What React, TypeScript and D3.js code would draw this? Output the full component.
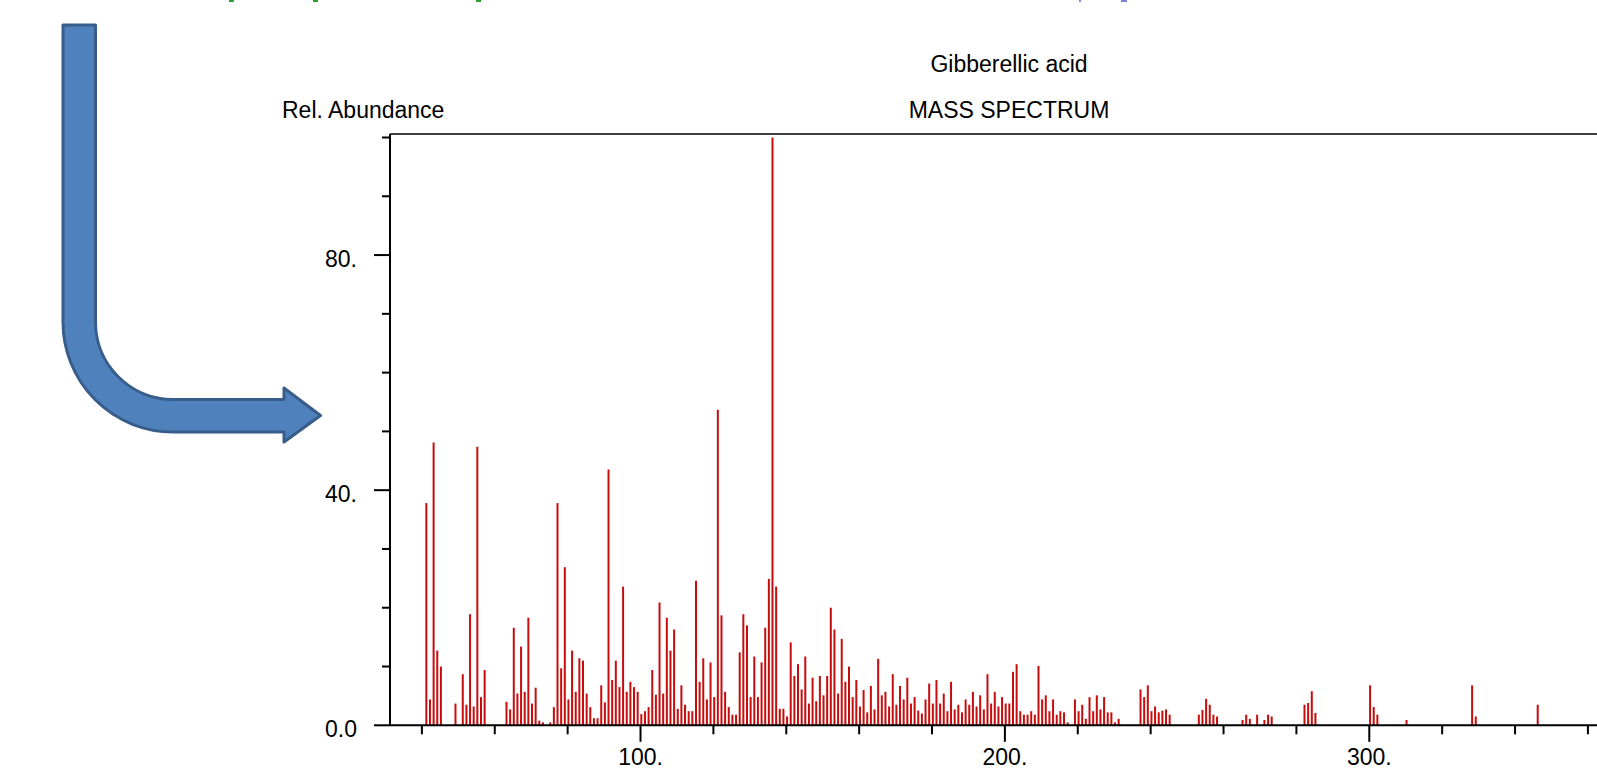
import React from 'react';
import * as d3 from 'd3';

// spectrum peaks (m/z, relative abundance %)
const massToCharge = [
  41, 42, 43, 44, 45, 49, 51, 52, 53, 54, 55, 56, 57,
  63, 64, 65, 66, 67, 68, 69, 70, 71, 72, 73, 75, 76, 77, 78, 79, 80,
  81, 82, 83, 84, 85, 86, 87, 88, 89, 90, 91, 92, 93, 94, 95, 96, 97, 98, 99, 100,
  101, 102, 103, 104, 105, 106, 107, 108, 109, 110, 111, 112, 113, 114, 115, 116, 117, 118, 119, 120,
  121, 122, 123, 124, 125, 126, 127, 128, 129, 130, 131, 132, 133, 134, 135, 136, 137, 138, 139, 140,
  141, 142, 143, 144, 145, 146, 147, 148, 149, 150, 151, 152, 153, 154, 155, 156, 157, 158, 159, 160,
  161, 162, 163, 164, 165, 166, 167, 168, 169, 170, 171, 172, 173, 174, 175, 176, 177, 178, 179, 180,
  181, 182, 183, 184, 185, 186, 187, 188, 189, 190, 191, 192, 193, 194, 195, 196, 197, 198, 199, 200,
  201, 202, 203, 204, 205, 206, 207, 208, 209, 210, 211, 212, 213, 214, 215, 216, 217, 219, 220,
  221, 222, 223, 224, 225, 226, 227, 228, 229, 230, 231,
  237, 238, 239, 240, 241, 242, 243, 244, 245,
  253, 254, 255, 256, 257, 258, 265, 266, 267, 269, 271, 272, 273,
  282, 283, 284, 285, 300, 301, 302, 310, 328, 329, 346,
];
const abundance = [
  37.8, 4.4, 48.1, 12.7, 10.0, 3.7, 8.7, 3.5, 18.9, 3.2, 47.4, 4.8, 9.4,
  4.0, 2.7, 16.6, 5.4, 13.4, 5.7, 18.3, 3.7, 6.4, 0.8, 0.5, 0.5, 3.1, 37.8, 9.7, 26.9, 4.4,
  12.7, 5.7, 11.4, 11.0, 5.4, 3.1, 1.2, 1.2, 6.8, 3.9, 43.5, 7.7, 11.0, 6.5, 23.6, 5.7, 7.4, 6.5, 5.7, 1.9,
  2.4, 3.1, 9.4, 5.2, 20.9, 5.4, 18.3, 12.7, 16.3, 2.8, 6.8, 3.5, 2.4, 2.4, 24.6, 7.4, 11.4, 4.4, 10.7, 4.8,
  53.7, 18.7, 5.7, 3.1, 1.8, 1.8, 12.4, 18.9, 17.0, 4.8, 11.7, 4.8, 10.7, 16.6, 24.9, 100, 23.6, 2.8, 2.8, 1.5,
  14.1, 8.4, 10.4, 6.1, 11.7, 3.7, 8.1, 4.1, 8.4, 5.1, 8.4, 20.0, 16.3, 5.4, 14.7, 7.4, 10.0, 4.8, 7.7, 3.2,
  6.0, 2.2, 6.7, 2.7, 11.3, 5.1, 5.7, 3.2, 8.7, 3.5, 6.7, 4.4, 8.1, 3.7, 4.8, 2.5, 2.0, 4.4, 7.1, 3.7,
  7.7, 3.7, 5.4, 2.4, 7.4, 2.7, 3.5, 2.2, 4.4, 3.5, 5.7, 3.2, 5.1, 2.7, 8.7, 3.7, 5.7, 3.2, 4.8, 3.7,
  3.7, 9.1, 10.4, 2.4, 1.8, 1.8, 2.4, 1.8, 10.1, 4.4, 5.1, 2.4, 4.4, 1.8, 2.4, 2.2, 0.5, 4.4, 2.4,
  3.5, 1.1, 4.8, 2.4, 5.1, 2.7, 4.8, 2.2, 2.2, 0.5, 1.1,
  6.1, 4.8, 6.8, 2.4, 3.2, 2.2, 2.5, 2.7, 1.8,
  1.8, 2.6, 4.5, 3.5, 1.8, 1.5, 0.9, 1.8, 1.1, 1.8, 0.9, 1.8, 1.5,
  3.5, 3.8, 5.8, 2.1, 6.8, 3.1, 1.8, 0.9, 6.8, 1.5, 3.5,
];

const xTicks = d3.range(40, 361, 20);
const xLabelled = [100, 200, 300];
const yTicks = d3.range(0, 101, 10);
const yLabels: Record<number, string> = { 0: '0.0', 40: '40.', 80: '80.' };

const titleText = 'Gibberellic acid';
const subtitleText = 'MASS SPECTRUM';
const yAxisTitle = 'Rel. Abundance';

const W = 1597;
const H = 769;
const font = '"Liberation Sans", Arial, sans-serif';

const x = d3.scaleLinear().domain([31.25, 371]).range([390, 1628]);
const y = d3.scaleLinear().domain([0, 100]).range([725.3, 137.5]);

export default function App() {
  const peaks = massToCharge.map((mz, i) => ({ mz, value: abundance[i] }));
  const [x0, x1] = x.range();
  const yBase = y(0);
  const yTop = y(100) - 3.5;

  return (
    <svg width={W} height={H} style={{ position: 'absolute', left: 0, top: 0, background: '#fff' }}
      fontFamily={font}>
      {/* cut-off bits of coloured text at the very top */}
      <g>
        <rect x={229} y={0} width={5} height={2} fill="#2ca02c" />
        <rect x={313} y={0} width={5} height={2} fill="#2ca02c" />
        <rect x={476} y={0} width={5} height={2} fill="#2ca02c" />
        <rect x={1079} y={0} width={2} height={2} fill="#8080e0" />
        <rect x={1121} y={0} width={6} height={2} fill="#8080e0" />
      </g>

      {/* bent arrow */}
      <path
        d="M63,25 H95.5 V322 A77.5,77.5 0 0 0 173,399.5 H284 V388 L320.5,415.5 L284,442 V432 H173 A110,110 0 0 1 63,322 Z"
        fill="#4f81bd" stroke="#385d8a" strokeWidth={3} strokeLinejoin="round" />

      {/* titles */}
      <text x={(x0 + x1) / 2} y={72} textAnchor="middle" fontSize={23}>{titleText}</text>
      <text x={(x0 + x1) / 2} y={118.3} textAnchor="middle" fontSize={23}>{subtitleText}</text>
      <text x={282} y={118.3} fontSize={23}>{yAxisTitle}</text>

      {/* peaks */}
      <g stroke="#c80c0c" strokeWidth={2}>
        {peaks.map(p => (
          <line key={p.mz} x1={x(p.mz) + 0.8} x2={x(p.mz) + 0.8} y1={yBase} y2={y(p.value)} />
        ))}
      </g>

      {/* frame / axes */}
      <g stroke="#000" strokeWidth={2} fill="none">
        <line x1={x0} x2={x0} y1={yTop} y2={yBase} />
        <line x1={x0} x2={x1} y1={yBase} y2={yBase} />
        <line x1={x0} x2={x1} y1={yTop} y2={yTop} strokeWidth={1.6} />
        {yTicks.map(t => (
          <line key={t} x1={yLabels[t] ? x0 - 16 : x0 - 8} x2={x0} y1={y(t)} y2={y(t)} />
        ))}
        {xTicks.map(t => (
          <line key={t} x1={x(t)} x2={x(t)} y1={yBase} y2={yBase + (xLabelled.includes(t) ? 16.5 : 9)} />
        ))}
      </g>

      <g fontSize={23} fill="#000">
        {yTicks.filter(t => yLabels[t]).map(t => (
          <text key={t} x={357} y={y(t) + 11.5} textAnchor="end">{yLabels[t]}</text>
        ))}
        {xLabelled.map(t => (
          <text key={t} x={x(t)} y={764.5} textAnchor="middle">{`${t}.`}</text>
        ))}
      </g>
    </svg>
  );
}
